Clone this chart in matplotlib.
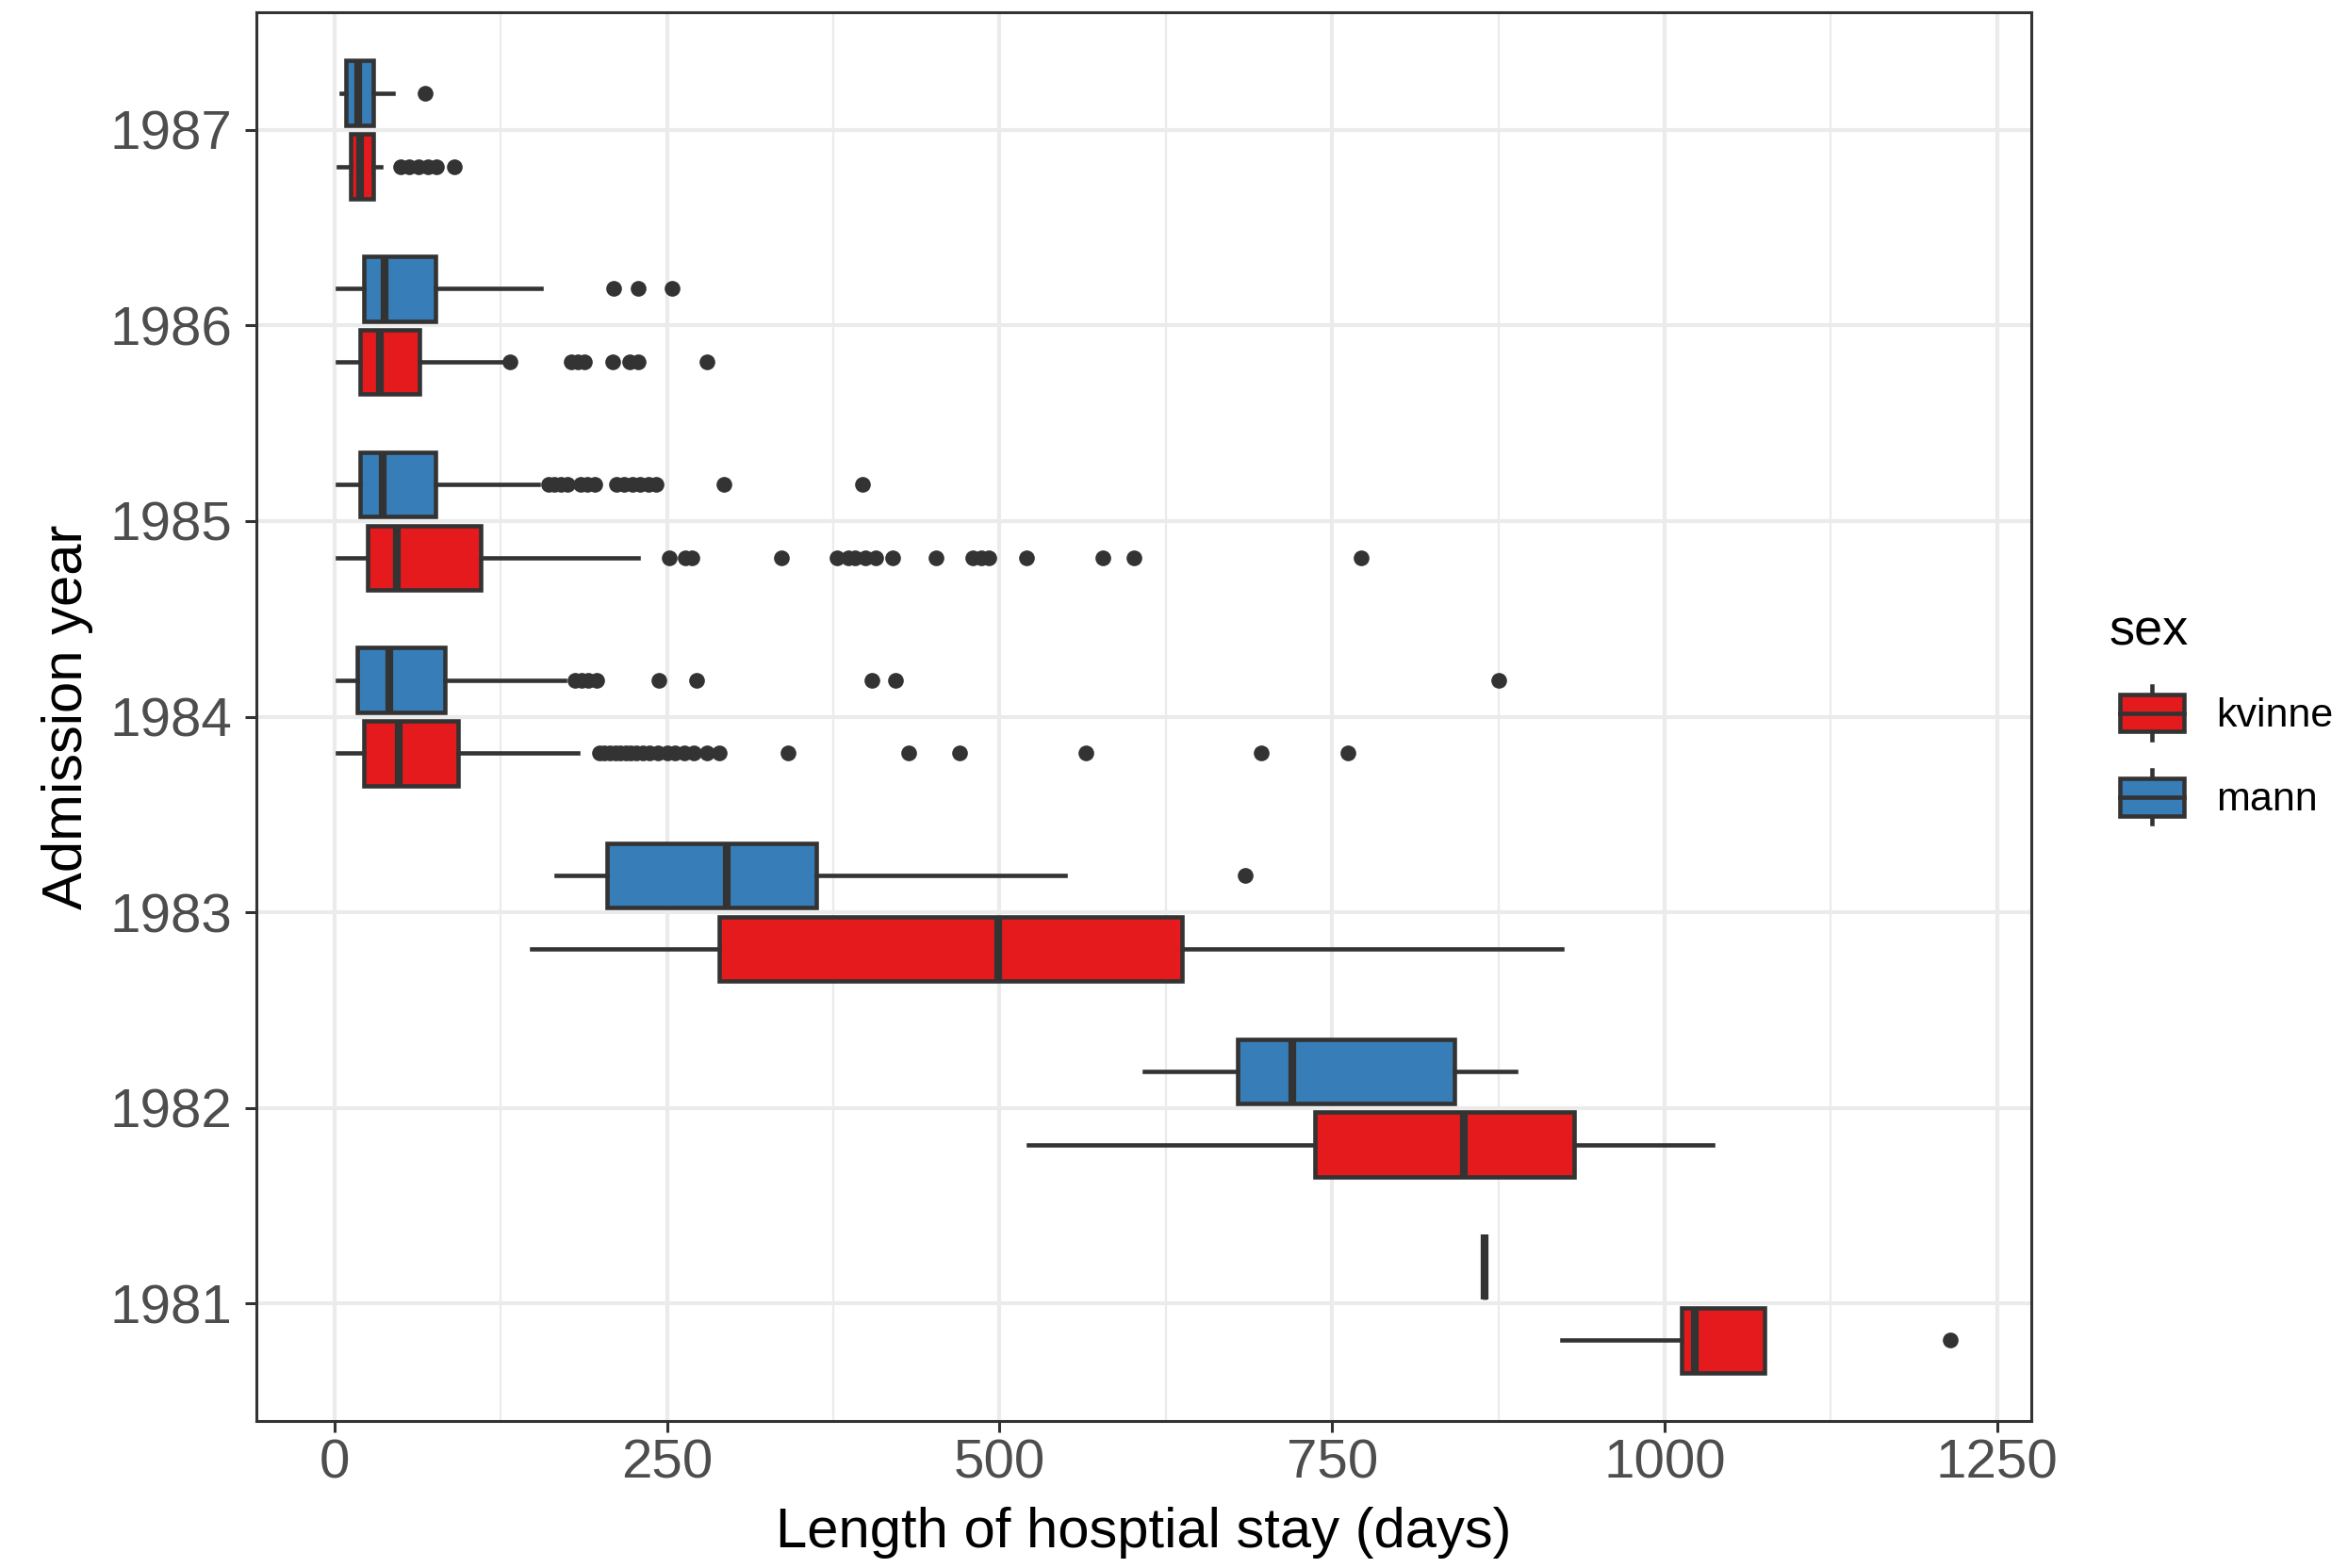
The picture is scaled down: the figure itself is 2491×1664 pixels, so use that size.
import numpy as np
import matplotlib
matplotlib.use("Agg")
import matplotlib.pyplot as plt
from matplotlib.patches import Patch, Rectangle
from matplotlib.lines import Line2D
from matplotlib.legend_handler import HandlerBase
from matplotlib.ticker import MultipleLocator

plt.rcParams['font.family'] = ['Liberation Sans', 'DejaVu Sans']

years = [1981, 1982, 1983, 1984, 1985, 1986, 1987]
sexes = ['kvinne', 'mann']
fills = {'kvinne': '#E41A1C', 'mann': '#377EB8'}

# five-number summaries per year (days), ordered like `years`
kvinne_lo = [923, 522, 148, 2, 2, 2, 3]
kvinne_q1 = [1013, 737, 289, 22, 25, 19, 12]
kvinne_med = [1023, 849, 499, 48, 47, 34, 19]
kvinne_q3 = [1075, 932, 637, 93, 110, 64, 29]
kvinne_hi = [1075, 1036, 923, 183, 228, 126, 35]
kvinne_out = [
    [1215],
    [],
    [],
    [199, 203, 207, 211, 215, 219, 223, 227, 232, 237, 243, 250, 256, 263,
     270, 280, 289, 341, 432, 470, 565, 697, 762],
    [252, 264, 269, 336, 378, 386, 391, 399, 407, 420, 452, 480, 486, 492,
     520, 578, 601, 772],
    [132, 178, 183, 188, 209, 222, 228, 280],
    [50, 56, 63, 70, 77, 90],
]

mann_lo = [865, 609, 167, 2, 2, 2, 5]
mann_q1 = [865, 679, 205, 17, 19, 22, 9]
mann_med = [865, 720, 295, 41, 36, 38, 18]
mann_q3 = [865, 842, 362, 83, 76, 76, 29]
mann_hi = [865, 888, 549, 173, 153, 155, 44]
mann_out = [
    [],
    [],
    [685],
    [181, 186, 191, 197, 244, 272, 404, 422, 875],
    [161, 165, 170, 175, 185, 190, 196, 212, 218, 224, 230, 236, 242, 293, 397],
    [210, 228, 254],
    [68],
]

summaries = {
    'kvinne': (kvinne_lo, kvinne_q1, kvinne_med, kvinne_q3, kvinne_hi, kvinne_out),
    'mann': (mann_lo, mann_q1, mann_med, mann_q3, mann_hi, mann_out),
}

edge = '#333333'
box_lw = 3.3
dodge = {'kvinne': -0.1875, 'mann': 0.1875}
box_h = 0.33

W, H = 2491, 1664
fig = plt.figure(figsize=(W / 100, H / 100), dpi=100)
ax = fig.add_axes([272 / W, 1 - 1508 / H, (2155 - 272) / W, (1508 - 13) / H])

all_vals = []
for sex in sexes:
    lo, q1, med, q3, hi, out = summaries[sex]
    stats = []
    for i in range(len(years)):
        stats.append(dict(whislo=lo[i], q1=q1[i], med=med[i], q3=q3[i],
                          whishi=hi[i], fliers=np.array(out[i], dtype=float)))
        all_vals += [lo[i], hi[i]] + list(out[i])
    pos = np.arange(len(years)) + dodge[sex]
    ax.bxp(stats, positions=pos, widths=box_h, orientation='horizontal',
           patch_artist=True, showcaps=False,
           boxprops=dict(facecolor=fills[sex], edgecolor=edge, linewidth=box_lw),
           whiskerprops=dict(color=edge, linewidth=box_lw),
           medianprops=dict(color=edge, linewidth=box_lw * 1.8),
           flierprops=dict(marker='o', markersize=12, markerfacecolor=edge,
                           markeredgewidth=0, linestyle='none'))

# ggplot-style limits: 5% padding on x, 0.6 on the discrete axis
vmin, vmax = min(all_vals), max(all_vals)
pad = 0.05 * (vmax - vmin)
ax.set_xlim(vmin - pad, vmax + pad)
ax.set_ylim(-0.6, len(years) - 0.4)

ax.set_yticks(np.arange(len(years)))
ax.set_yticklabels([str(y) for y in years])
ax.xaxis.set_major_locator(MultipleLocator(250))
ax.xaxis.set_minor_locator(MultipleLocator(125))

ax.set_axisbelow(True)
ax.grid(which='major', color='#EBEBEB', linewidth=3.0)
ax.grid(which='minor', axis='x', color='#EBEBEB', linewidth=1.6)
ax.set_facecolor('white')
for s in ax.spines.values():
    s.set_color(edge)
    s.set_linewidth(2.2)

ax.tick_params(axis='both', which='major', length=8.6, width=2.2, color=edge,
               labelsize=42, labelcolor='#4D4D4D')
ax.tick_params(axis='x', which='major', pad=5)
ax.tick_params(axis='y', which='major', pad=10)
ax.tick_params(which='minor', length=0)

ax.set_xlabel('Length of hosptial stay (days)', fontsize=43, labelpad=13)
ax.set_ylabel('Admission year', fontsize=43, labelpad=12)


class BoxKey(HandlerBase):
    # small boxplot glyph, indented a little from the legend title
    def create_artists(self, legend, orig_handle, xdescent, ydescent,
                       width, height, fontsize, trans):
        x0, y0 = -xdescent + 0.14 * width, -ydescent
        w = width * 0.86
        cx = x0 + w / 2
        b0, b1 = y0 + 0.15 * height, y0 + 0.85 * height
        box = Rectangle((x0, b0), w, b1 - b0,
                        facecolor=orig_handle.get_facecolor(), edgecolor=edge,
                        linewidth=box_lw, transform=trans)
        mid = Line2D([x0, x0 + w], [y0 + height / 2] * 2, color=edge,
                     linewidth=box_lw, transform=trans)
        wl = Line2D([cx, cx], [y0, b0], color=edge, linewidth=box_lw, transform=trans)
        wh = Line2D([cx, cx], [b1, y0 + height], color=edge, linewidth=box_lw,
                    transform=trans)
        return [wl, wh, box, mid]


handles = [Patch(facecolor=fills[s]) for s in sexes]
leg = fig.legend(handles, sexes, title='sex', loc='center left',
                 bbox_to_anchor=(2216 / W, 1 - 760 / H), frameon=False,
                 borderpad=0, alignment='left', fontsize=31,
                 title_fontsize=39, handlelength=1.85, handleheight=1.65,
                 labelspacing=0.75, handletextpad=0.8,
                 handler_map={Patch: BoxKey()})

fig.savefig('out.png', dpi=100, facecolor='white')
